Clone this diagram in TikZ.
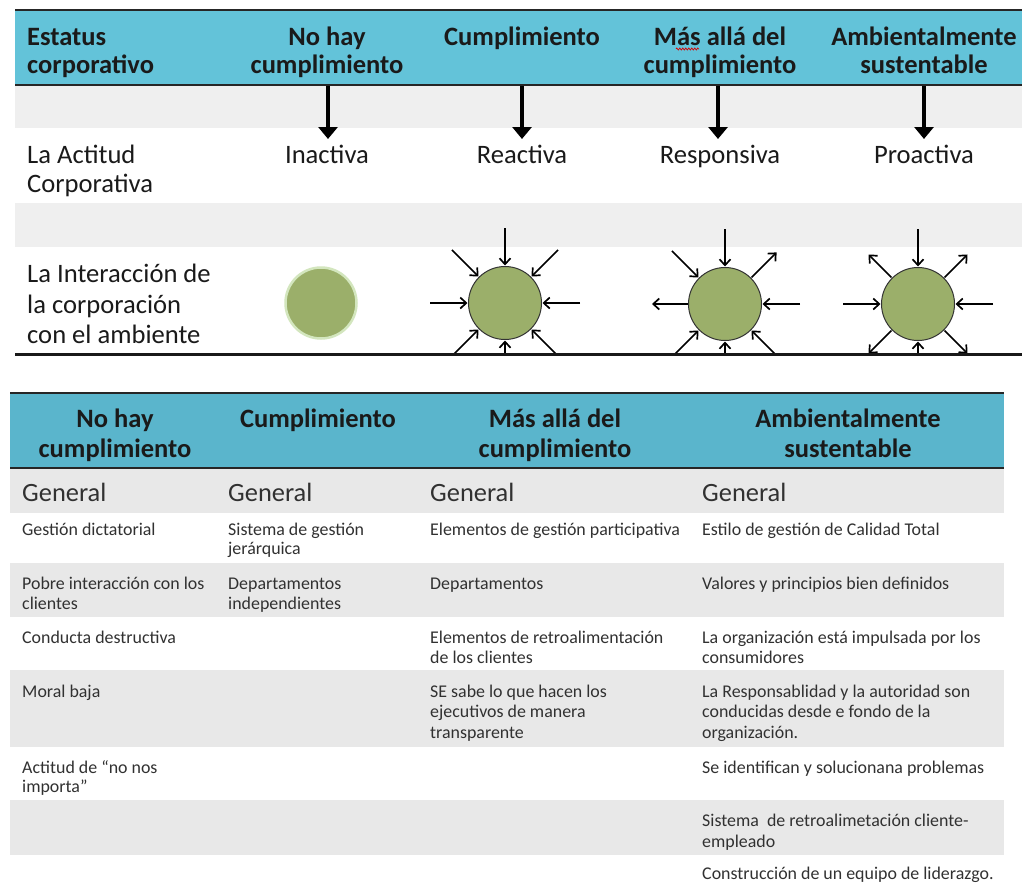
\documentclass[tikz,border=0pt]{standalone}
\usepackage{fontspec}
\setmainfont{Carlito}
\usetikzlibrary{arrows.meta,calc,decorations.pathmorphing}
\definecolor{hdrA}{HTML}{63C3D9}
\definecolor{hdrB}{HTML}{5AB5CC}
\definecolor{grayA}{HTML}{EFEFEF}
\definecolor{grayB}{HTML}{E8E8E8}
\definecolor{orb}{HTML}{9BAF6A}
\definecolor{orbglow}{HTML}{D3E6BE}
\definecolor{ink}{HTML}{1A1A1A}
\begin{document}
\begin{tikzpicture}[x=1pt,y=-1pt,
  hd/.style={font=\fontsize{26.5}{28}\selectfont\bfseries, text=ink, inner sep=0pt, anchor=base},
  hdl/.style={hd, anchor=base west},
  big/.style={font=\fontsize{26.6}{29}\selectfont, text=ink, inner sep=0pt, anchor=base},
  bigl/.style={big, anchor=base west},
  gen/.style={font=\fontsize{26.4}{28}\selectfont, text=ink!90, inner sep=0pt, anchor=base west},
  sm/.style={font=\fontsize{17.9}{20}\selectfont, text=ink!90, inner sep=0pt, anchor=base west},
  fat/.style={line width=3.4pt, -{Triangle[length=12pt,width=19pt]}},
  ray/.style={line width=1.7pt, -{Straight Barb[length=6pt,width=11pt]}},
  orbc/.style={circle, minimum size=73pt, inner sep=0pt, fill=orb, draw=black!80, line width=1pt}
]
\useasboundingbox (0,0) rectangle (1022,884);
\fill[white] (0,0) rectangle (1022,884);

% ---------- top table ----------
\fill[hdrA] (15,10) rectangle (1022,85);
\fill[grayA] (15,86) rectangle (1022,128);
\fill[grayA] (15,203) rectangle (1022,247);
\draw[line width=2.5pt, black!85] (15,10) -- (1022,10);
\draw[line width=1.5pt, black!85] (15,85) -- (1022,85);

\node[hdl] (t1a) at (27,45) {Estatus};
\node[hdl] (t1b) at (27,73) {corporativo};
\node[hd] (t2a) at (327,45) {No hay};
\node[hd] (t2b) at (327,73) {cumplimiento};
\node[hd] (t3a) at (522,45) {Cumplimiento};
\node[hd] (t4a) at (720,45) {Más allá del};
\node[hd] (t4b) at (720,73) {cumplimiento};
\node[hd] (t5a) at (924,45) {Ambientalmente};
\node[hd] (t5b) at (924,73) {sustentable};
\draw[red!85!black, line width=0.7pt, decorate, decoration={zigzag, amplitude=1pt, segment length=3pt}] (676,49) -- (699,49);

\node[bigl] (r1a) at (27,163) {La Actitud};
\node[bigl] (r1b) at (27,192) {Corporativa};
\node[big] (r1c) at (327,163) {Inactiva};
\node[big] (r1d) at (522,163) {Reactiva};
\node[big] (r1e) at (720,163) {Responsiva};
\node[big] (r1f) at (924,163) {Proactiva};

\coordinate (s1) at (328,86);  \coordinate (e1) at (328,139);
\coordinate (s2) at (522,86);  \coordinate (e2) at (522,139);
\coordinate (s3) at (718,86);  \coordinate (e3) at (718,139);
\coordinate (s4) at (924,86);  \coordinate (e4) at (924,139);
\draw[fat] (s1) -- (e1);
\draw[fat] (s2) -- (e2);
\draw[fat] (s3) -- (e3);
\draw[fat] (s4) -- (e4);

\node[bigl] (r2a) at (27,282) {La Interacción de};
\node[bigl] (r2b) at (27,313) {la corporación};
\node[bigl] (r2c) at (27,343) {con el ambiente};

\node[circle, minimum size=71pt, inner sep=0pt, fill=orb, draw=orbglow, line width=2.5pt] (c1) at (321,303) {};
\node[orbc] (c2) at (505,303) {};
\node[orbc] (c3) at (725,304) {};
\node[orbc] (c4) at (918,304) {};

\begin{scope}
\clip (0,0) rectangle (1022,353);
\foreach \a in {0,45,...,315}
  \draw[ray] ($(c2)+(\a:75pt)$) -- ($(c2)+(\a:37.5pt)$);
\foreach \a in {0,90,135,225,270,315}
  \draw[ray] ($(c3)+(\a:75pt)$) -- ($(c3)+(\a:37.5pt)$);
\foreach \a in {45,180}
  \draw[ray] ($(c3)+(\a:37.5pt)$) -- ($(c3)+(\a:73pt)$);
\foreach \a in {0,90,180,270}
  \draw[ray] ($(c4)+(\a:75pt)$) -- ($(c4)+(\a:37.5pt)$);
\foreach \a in {45,135,225,315}
  \draw[ray] ($(c4)+(\a:37.5pt)$) -- ($(c4)+(\a:70pt)$);
\end{scope}
\draw[line width=3pt, black!90] (15,354) -- (1022,354);

% ---------- bottom table ----------
\fill[hdrB] (10,393) rectangle (1004,468);
\fill[grayB] (10,469) rectangle (1004,513);
\fill[grayB] (10,563) rectangle (1004,617);
\fill[grayB] (10,670) rectangle (1004,747);
\fill[grayB] (10,800) rectangle (1004,855);
\draw[line width=2.5pt, black!85] (10,393) -- (1004,393);
\draw[line width=2pt, black!85] (10,468) -- (1004,468);

\node[hd] (b1a) at (115,427) {No hay};
\node[hd] (b1b) at (115,457) {cumplimiento};
\node[hd] (b2a) at (318,427) {Cumplimiento};
\node[hd] (b3a) at (555,427) {Más allá del};
\node[hd] (b3b) at (555,457) {cumplimiento};
\node[hd] (b4a) at (848,427) {Ambientalmente};
\node[hd] (b4b) at (848,457) {sustentable};

\node[gen] (g1) at (22,501) {General};
\node[gen] (g2) at (228,501) {General};
\node[gen] (g3) at (430,501) {General};
\node[gen] (g4) at (702,501) {General};

\node[sm] (a1) at (22,535) {Gestión dictatorial};
\node[sm] (a2) at (228,535) {Sistema de gestión};
\node[sm] (a2b) at (228,554) {jerárquica};
\node[sm] (a3) at (430,535) {Elementos de gestión participativa};
\node[sm] (a4) at (702,535) {Estilo de gestión de Calidad Total};

\node[sm] (p1) at (22,589) {Pobre interacción con los};
\node[sm] (p1b) at (22,609) {clientes};
\node[sm] (p2) at (228,589) {Departamentos};
\node[sm] (p2b) at (228,609) {independientes};
\node[sm] (p3) at (430,589) {Departamentos};
\node[sm] (p4) at (702,589) {Valores y principios bien definidos};

\node[sm] (k1) at (22,643) {Conducta destructiva};
\node[sm] (k3) at (430,643) {Elementos de retroalimentación};
\node[sm] (k3b) at (430,663) {de los clientes};
\node[sm] (k4) at (702,643) {La organización está impulsada por los};
\node[sm] (k4b) at (702,663) {consumidores};

\node[sm] (m1) at (22,697) {Moral baja};
\node[sm] (m3) at (430,697) {SE sabe lo que hacen los};
\node[sm] (m3b) at (430,717) {ejecutivos de manera};
\node[sm] (m3c) at (430,738) {transparente};
\node[sm] (m4) at (702,697) {La Responsablidad y la autoridad son};
\node[sm] (m4b) at (702,717) {conducidas desde e fondo de la};
\node[sm] (m4c) at (702,738) {organización.};

\node[sm] (n1) at (22,773) {Actitud de “no nos};
\node[sm] (n1b) at (22,792) {importa”};
\node[sm] (n4) at (702,773) {Se identifican y solucionana problemas};

\node[sm] (q4) at (702,826) {Sistema\ \ de retroalimetación cliente-};
\node[sm] (q4b) at (702,847) {empleado};

\node[sm] (w4) at (702,879) {Construcción de un equipo de liderazgo.};
\end{tikzpicture}
\end{document}
